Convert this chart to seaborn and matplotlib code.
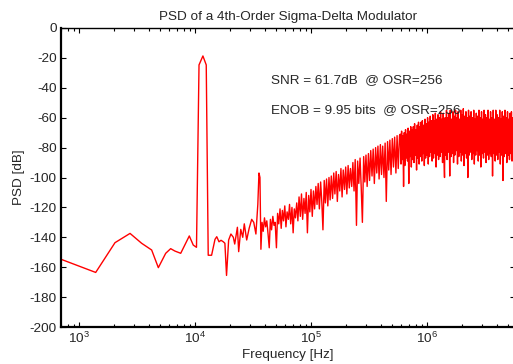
import numpy as np
import pandas as pd
import matplotlib
matplotlib.use("Agg")
import matplotlib.pyplot as plt
import seaborn as sns

# low-frequency part of the spectrum (sparse FFT bins), Hz and dB
freq_low = [700, 1393, 2043, 2754, 3467, 4230, 4830, 5590, 6170, 6710,
            7530, 8930, 9660, 10300, 10830, 11700, 12500, 13000, 13900, 14870,
            15400, 16100, 16760, 17540, 18100, 18700, 19500, 20400, 21400, 22000,
            23200, 23800, 24800, 25800, 26600, 27900, 29300, 30800, 32100, 33500,
            34800, 35600, 36300, 37000]
psd_low = [-154.7, -163.5, -143.6, -137.4, -144, -148.5, -160.3, -150.7, -147.6, -149.2,
           -150.7, -139.1, -145.2, -146.7, -24.7, -18.7, -24.7, -152, -152, -141.4,
           -139.6, -143, -142, -143, -144, -165.5, -141.8, -137.8, -140, -144.5,
           -133.3, -149.6, -134.7, -140, -131, -141.8, -134, -128, -130, -137.8,
           -118, -97, -100, -148]

# rising noise, 40 kHz .. 580 kHz, frequency as log10(Hz)
logf_mid = [4.578, 4.588, 4.599, 4.609, 4.619, 4.630, 4.640, 4.650, 4.660, 4.671,
            4.681, 4.691, 4.702, 4.712, 4.722, 4.733, 4.743, 4.753, 4.763, 4.774,
            4.784, 4.794, 4.805, 4.815, 4.825, 4.836, 4.846, 4.856, 4.866, 4.877,
            4.887, 4.897, 4.908, 4.918, 4.928, 4.939, 4.949, 4.959, 4.969, 4.980,
            4.990, 5.000, 5.011, 5.021, 5.031, 5.042, 5.052, 5.062, 5.072, 5.083,
            5.093, 5.103, 5.114, 5.124, 5.134, 5.145, 5.155, 5.165, 5.175, 5.186,
            5.196, 5.206, 5.217, 5.227, 5.237, 5.248, 5.258, 5.268, 5.278, 5.289,
            5.299, 5.309, 5.320, 5.330, 5.340, 5.351, 5.361, 5.371, 5.381, 5.392,
            5.402, 5.412, 5.423, 5.433, 5.443, 5.454, 5.464, 5.474, 5.484, 5.495,
            5.505, 5.515, 5.526, 5.536, 5.546, 5.557, 5.567, 5.577, 5.587, 5.598,
            5.608, 5.618, 5.629, 5.639, 5.649, 5.660, 5.670, 5.680, 5.690, 5.701,
            5.711, 5.721, 5.732, 5.742, 5.752, 5.763]
psd_mid = [-130, -136, -127, -133, -129, -138, -147, -128, -135, -126, -132, -130, -147,
           -124, -131, -121, -134, -122, -129, -119, -133, -123, -128, -118, -131, -120,
           -137, -121, -127, -117,
           -129, -113, -126, -111, -128, -114, -124, -110, -137, -112, -123, -108, -126,
           -109, -121,
           -106, -118, -104, -121, -103, -116, -135, -102, -117, -101, -119, -100, -115, -99,
           -114, -97, -111, -96, -116, -98, -109, -94, -113, -95, -108, -93, -111, -92,
           -107, -94,
           -106, -90, -109, -88, -132, -89, -104, -87, -107, -130, -86, -103, -85, -106, -84,
           -102, -82, -99, -81, -104, -80, -97, -79, -101, -78, -98, -79, -100, -77, -116,
           -76, -95, -75, -98, -74, -93, -73, -97, -72, -94, -72]

# flat top of the noise, 590 kHz .. 5.8 MHz, frequency as log10(Hz)
logf_high = [5.770, 5.776, 5.781, 5.787, 5.792, 5.798, 5.804, 5.809, 5.815, 5.820,
             5.826, 5.832, 5.837, 5.843, 5.848, 5.854, 5.860, 5.865, 5.871, 5.876,
             5.882, 5.888, 5.893, 5.899, 5.904, 5.910, 5.916, 5.921, 5.927, 5.932,
             5.938, 5.944, 5.949, 5.955, 5.960, 5.966, 5.972, 5.977, 5.983, 5.988,
             5.994, 6.000, 6.005, 6.011, 6.016, 6.022, 6.028, 6.033, 6.039, 6.044,
             6.050, 6.056, 6.061, 6.067, 6.072, 6.078, 6.084, 6.089, 6.095, 6.100,
             6.106, 6.112, 6.117, 6.123, 6.128, 6.134, 6.140, 6.145, 6.151, 6.156,
             6.162, 6.168, 6.173, 6.179, 6.184, 6.190, 6.196, 6.201, 6.207, 6.212,
             6.218, 6.224, 6.229, 6.235, 6.240, 6.246, 6.252, 6.257, 6.263, 6.268,
             6.274, 6.280, 6.285, 6.291, 6.296, 6.302, 6.308, 6.313, 6.319, 6.324,
             6.330, 6.336, 6.341, 6.347, 6.352, 6.358, 6.364, 6.369, 6.375, 6.380,
             6.386, 6.392, 6.397, 6.403, 6.408, 6.414, 6.420, 6.425, 6.431, 6.436,
             6.442, 6.448, 6.453, 6.459, 6.464, 6.470, 6.476, 6.481, 6.487, 6.492,
             6.498, 6.504, 6.509, 6.515, 6.520, 6.526, 6.532, 6.537, 6.543, 6.548,
             6.554, 6.560, 6.565, 6.571, 6.576, 6.582, 6.588, 6.593, 6.599, 6.604,
             6.610, 6.616, 6.621, 6.627, 6.632, 6.638, 6.644, 6.649, 6.655, 6.660,
             6.666, 6.672, 6.677, 6.683, 6.688, 6.694, 6.700, 6.705, 6.711, 6.716,
             6.722, 6.728, 6.733, 6.739, 6.744, 6.750, 6.756, 6.761]
psd_high = [-71, -91, -69, -88, -72, -106, -70, -92, -68, -87,
            -71, -89, -67, -104, -69, -86, -66, -93, -68, -88,
            -66, -90, -64, -85, -68, -95, -65, -87, -63, -91,
            -66, -86, -63, -89, -62, -84, -65, -92, -61, -87,
            -64, -85, -60, -91, -63, -86, -59, -83, -62, -89,
            -58, -87, -62, -84, -57, -93, -61, -85, -58, -88,
            -60, -86, -56, -83, -61, -90, -57, -84, -100, -60,
            -85, -55, -88, -60, -83, -57, -99, -55, -86, -61,
            -84, -56, -90, -59, -85, -55, -82, -60, -91, -56,
            -86, -61, -83, -55, -89, -58, -85, -54, -92, -59,
            -84, -56, -87, -60, -100, -55, -85, -59, -83, -56,
            -88, -60, -84, -55, -91, -61, -85, -57, -82, -59,
            -89, -55, -85, -60, -93, -56, -84, -61, -87, -55,
            -83, -58, -90, -60, -85, -55, -88, -61, -84, -56,
            -86, -60, -99, -55, -84, -61, -89, -55, -85, -58,
            -88, -60, -83, -55, -91, -61, -85, -56, -102, -59,
            -86, -55, -84, -60, -90, -56, -85, -61, -88, -57,
            -84, -56, -89, -60, -85, -55, -86, -59]

y_ticks = list(range(-200, 1, 20))

sns.set_style("ticks")
plt.rcParams['font.family'] = ['Liberation Sans', 'DejaVu Sans']
plt.rcParams['axes.unicode_minus'] = False
plt.rcParams['mathtext.default'] = 'regular'

logf_all = np.array(logf_mid + logf_high)
df = pd.DataFrame({
    "freq": list(freq_low) + list(10 ** logf_all),
    "psd": psd_low + psd_mid + psd_high,
})

fs = 9.7

# pixel layout: 10^3 sits at x=79 px, one decade spans 116 px
fig = plt.figure(figsize=(5.13, 3.64), dpi=100)
ax = fig.add_axes([61 / 513, 1 - 327 / 364, (515 - 61) / 513, (327 - 28) / 364])

sns.lineplot(data=df, x="freq", y="psd", color="#ff0000", linewidth=1.0,
             estimator=None, sort=False, ax=ax)

ax.set_xscale("log")
ax.set_xlim(10 ** (3 - 18 / 116), 10 ** (3 + 436 / 116))
ax.set_ylim(-200, 0)
ax.set_yticks(y_ticks)
ax.set_yticklabels([str(t) for t in y_ticks])

ax.set_title("PSD of a 4th-Order Sigma-Delta Modulator", fontsize=fs, pad=6)
ax.set_xlabel("Frequency [Hz]", fontsize=fs, labelpad=2)
ax.set_ylabel("PSD [dB]", fontsize=fs, labelpad=3.5)

ax.text(45e3, -35, "SNR = 61.7dB  @ OSR=256", fontsize=fs, va="center", ha="left")
ax.text(45e3, -55, "ENOB = 9.95 bits  @ OSR=256", fontsize=fs, va="center", ha="left")

ax.tick_params(axis="both", which="both", direction="in", top=True, right=True,
               labelsize=fs, width=0.8, color="black")
ax.tick_params(which="major", length=3.5, pad=3)
ax.tick_params(which="minor", length=2)

for side in ["left", "bottom"]:
    ax.spines[side].set_linewidth(1.6)
for side in ["top", "right"]:
    ax.spines[side].set_linewidth(1.0)
for s in ax.spines.values():
    s.set_color("black")

fig.savefig("out.png", dpi=100)
